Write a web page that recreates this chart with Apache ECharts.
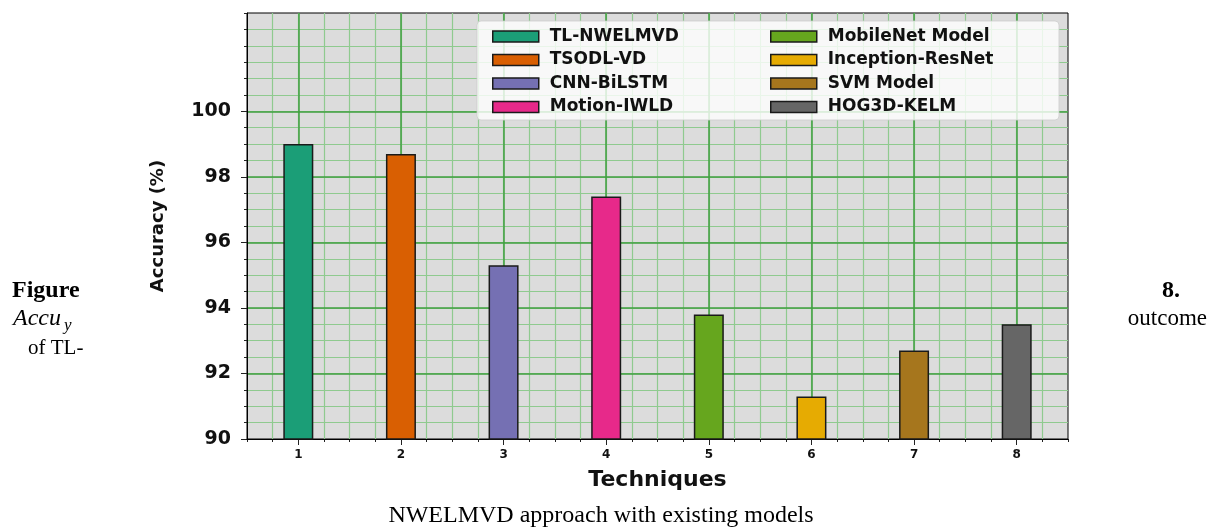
<!DOCTYPE html>
<html>
<head>
<meta charset="utf-8">
<title>Accuracy of TL-NWELMVD</title>
<script src="https://cdn.jsdelivr.net/npm/echarts@6/dist/echarts.min.js"></script>
<style>
    html, body { margin: 0; padding: 0; background: #fff; }
    #main { width: 1215px; height: 532px; }
</style>
</head>
<body>
<div id="main"></div>
<script>
// data
const categories = ['1', '2', '3', '4', '5', '6', '7', '8'];
const techniques = ['TL-NWELMVD', 'TSODL-VD', 'CNN-BiLSTM', 'Motion-IWLD',
    'MobileNet Model', 'Inception-ResNet', 'SVM Model', 'HOG3D-KELM'];
const accuracy = [99.0, 98.7, 95.3, 97.4, 93.8, 91.3, 92.7, 93.5];
const yLabels = [90, 92, 94, 96, 98, 100];
const xMajors = [1, 2, 3, 4, 5, 6, 7, 8];

const barColors = ['#1b9e77', '#d95f02', '#7570b3', '#e7298a', '#66a61e', '#e6ab02', '#a6761d', '#666666'];
const MAJOR = '#3f9f3f';
const MINOR = '#8fca8f';

const font = 'DejaVu Sans';
let myChart = echarts.init(document.getElementById('main'));

let series = techniques.map(function (name, i) {
    return {
        name: name,
        type: 'bar',
        xAxisIndex: 0,
        yAxisIndex: 0,
        z: 3,
        barWidth: 30,
        barGap: '-100%',
        data: categories.map(function (c, j) { return j === i ? accuracy[i] : '-'; }),
        itemStyle: {
            color: barColors[i],
            borderColor: '#1a1a1a',
            borderWidth: 1.5
        }
    };
});

const legendCommon = {
    orient: 'vertical',
    top: 23,
    itemWidth: 46,
    itemHeight: 11,
    itemGap: 6.5,
    icon: 'rect',
    z: 6,
    itemStyle: { borderColor: '#1a1a1a', borderWidth: 1.5 },
    textStyle: { fontFamily: font, fontWeight: 'bold', fontSize: 17, color: '#111', padding: [0, 0, 0, 6] }
};

myChart.setOption({
    animation: false,
    backgroundColor: '#fff',
    grid: {
        left: 247,
        top: 13,
        right: 147,
        bottom: 93,
        show: true,
        backgroundColor: '#dcdcdc',
        borderColor: '#000',
        borderWidth: 1
    },
    legend: [
        Object.assign({ left: 487, data: techniques.slice(0, 4) }, legendCommon),
        Object.assign({ left: 765, data: techniques.slice(4) }, legendCommon)
    ],
    graphic: [
        {
            type: 'rect',
            z: 5,
            shape: { x: 477, y: 21, width: 582, height: 99, r: 4 },
            style: { fill: 'rgba(255,255,255,0.8)', stroke: 'rgba(204,204,204,0.8)', lineWidth: 1 }
        },
        { type: 'text', style: { text: 'Figure', x: 12, y: 291, font: 'bold 24px "Liberation Serif"', fill: '#000', verticalAlign: 'middle' } },
        { type: 'text', style: { text: 'Accu', x: 13, y: 319, font: 'italic 24px "Liberation Serif"', fill: '#000', verticalAlign: 'middle' } },
        { type: 'text', style: { text: 'y', x: 64, y: 326, font: 'italic 17px "Liberation Serif"', fill: '#000', verticalAlign: 'middle' } },
        { type: 'text', style: { text: 'of TL-', x: 28, y: 348, font: '21px "Liberation Serif"', fill: '#000', verticalAlign: 'middle' } },
        { type: 'text', style: { text: '8.', x: 1180, y: 291, font: 'bold 24px "Liberation Serif"', fill: '#000', align: 'right', verticalAlign: 'middle' } },
        { type: 'text', style: { text: 'outcome', x: 1207, y: 319, font: '23px "Liberation Serif"', fill: '#000', align: 'right', verticalAlign: 'middle' } },
        { type: 'text', style: { text: 'NWELMVD approach with existing models', x: 601, y: 516, font: '24px "Liberation Serif"', fill: '#000', align: 'center', verticalAlign: 'middle' } }
    ],
    xAxis: [
        {
            // bars + labels
            type: 'category',
            data: categories,
            boundaryGap: true,
            z: 2,
            name: 'Techniques',
            nameLocation: 'middle',
            nameGap: 30,
            nameTextStyle: { fontFamily: font, fontWeight: 'bold', fontSize: 22, color: '#111' },
            axisLine: { show: true, lineStyle: { color: '#000', width: 1 } },
            axisTick: { show: false },
            axisLabel: { fontFamily: font, fontWeight: 'bold', fontSize: 12, color: '#111', margin: 10 },
            splitLine: { show: false }
        },
        {
            // minor grid
            type: 'value',
            position: 'bottom',
            min: 0.5,
            max: 8.5,
            interval: 0.25,
            z: 0,
            axisLine: { show: false },
            axisTick: { show: true, length: 3, lineStyle: { color: '#222' } },
            axisLabel: { show: false },
            splitLine: { show: true, showMinLine: false, showMaxLine: false, lineStyle: { color: MINOR, width: 1.2 } }
        },
        {
            // major grid
            type: 'value',
            position: 'bottom',
            min: 0.5,
            max: 8.5,
            interval: 0.25,
            z: 1,
            axisLine: { show: false },
            axisTick: { show: true, length: 6, customValues: xMajors, lineStyle: { color: '#222' } },
            axisLabel: { show: false },
            splitLine: { show: true, lineStyle: { color: MAJOR, width: 1.5 } }
        }
    ],
    yAxis: [
        {
            // major grid + labels
            type: 'value',
            position: 'left',
            min: 90,
            max: 103,
            interval: 0.5,
            z: 1,
            name: 'Accuracy (%)',
            nameLocation: 'middle',
            nameGap: 80,
            nameTextStyle: { fontFamily: font, fontWeight: 'bold', fontSize: 18, color: '#111' },
            axisLine: { show: true, lineStyle: { color: '#000', width: 1 } },
            axisTick: { show: true, length: 6, customValues: yLabels, lineStyle: { color: '#222' } },
            axisLabel: {
                fontFamily: font, fontWeight: 'bold', fontSize: 19, color: '#111', margin: 16,
                customValues: yLabels
            },
            splitLine: { show: true, showMinLine: false, lineStyle: { color: MAJOR, width: 1.5 } }
        },
        {
            // minor grid
            type: 'value',
            position: 'left',
            min: 90,
            max: 103,
            interval: 0.5,
            z: 0,
            axisLine: { show: false },
            axisTick: { show: true, length: 3, lineStyle: { color: '#222' } },
            axisLabel: { show: false },
            splitLine: { show: true, showMinLine: false, showMaxLine: false, lineStyle: { color: MINOR, width: 1.2 } }
        }
    ],
    series: series
});
</script>
</body>
</html>
